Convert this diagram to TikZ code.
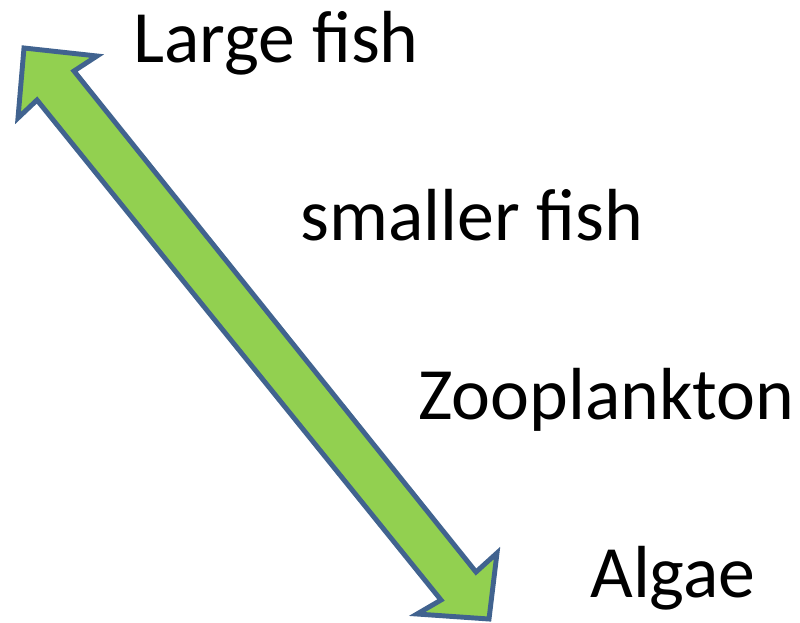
\documentclass[tikz,border=0pt]{standalone}
\usepackage{fontspec}
\setmainfont{Carlito}
\usetikzlibrary{positioning}

\definecolor{arrowfill}{HTML}{92D050}
\definecolor{arrowline}{HTML}{41638F}

\tikzset{
    level/.style={anchor=base west, inner sep=0pt, font=\fontsize{42}{50}\selectfont}
}

\begin{document}
\begin{tikzpicture}[x=0.02cm, y=-0.02cm]
    \useasboundingbox (0,0) rectangle (800,622);
    % double block arrow
    \draw [line width=2.8pt, draw=arrowline, fill=arrowfill, line join=miter]
        (24,48) -- (97,56) -- (74,71) -- (476,572) -- (497,553) -- (489,619)
        -- (417,614) -- (441,600) -- (37,100) -- (18,118) -- cycle;
    % food chain levels
    \node (large) [level] at (133,62) {Large fish};
    \node (smaller) [level] at (300,240) {smaller fish};
    \node (zoo) [level] at (418,419) {Zooplankton};
    \node (algae) [level] at (590,597) {Algae};
\end{tikzpicture}
\end{document}
